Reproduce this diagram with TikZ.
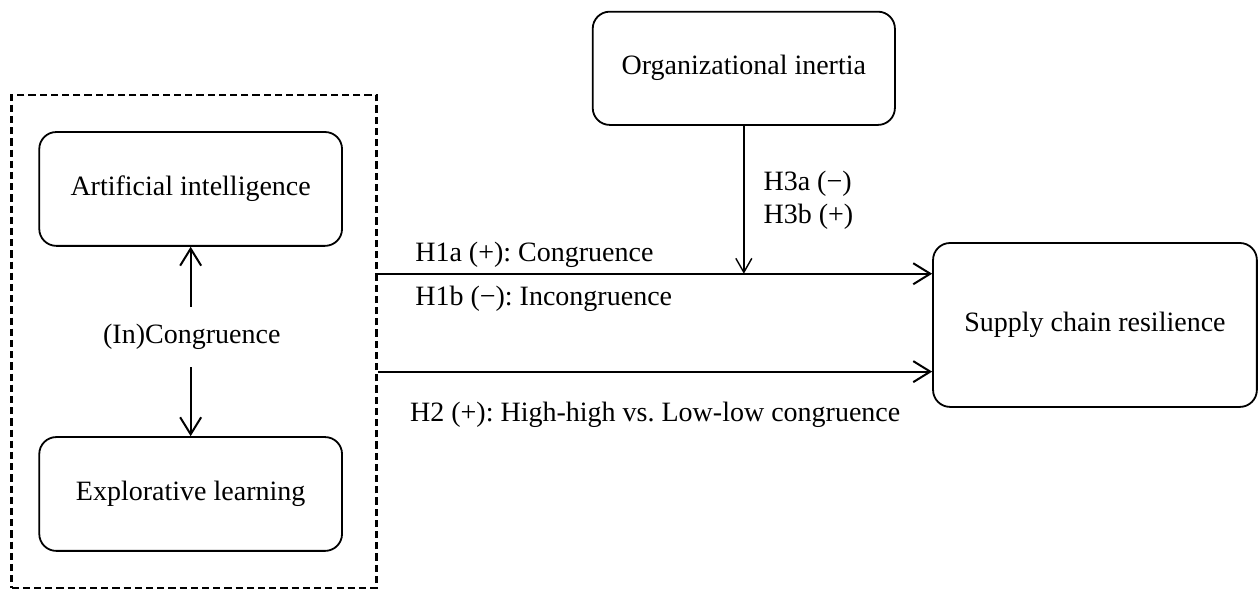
\documentclass[tikz,border=0pt]{standalone}
\usepackage{fontspec}
\setmainfont{Liberation Serif}
\usetikzlibrary{arrows.meta}
\usetikzlibrary{positioning}
\frenchspacing

\begin{document}
\begin{tikzpicture}[
    construct/.style={draw, rounded corners=8.5pt, line width=0.9pt, align=center},
    group/.style={draw, dash pattern=on 3.6pt off 2pt, line width=1.3pt, minimum width=6.41cm, minimum height=8.66cm},
    hyp/.style={anchor=base west, inner sep=0pt},
    arr/.style={line width=1pt, -{Straight Barb[length=8.5pt, width=10.5pt]}},
    modarr/.style={line width=0.7pt, -{Straight Barb[length=7pt, width=8pt]}},
    font=\fontsize{14}{16}\selectfont
]

\useasboundingbox (0,0) rectangle (22.14,-10.37);

% --- AI and learning pair ---
\node[group] (pair) at (3.41,-6.00) {};
\node[construct, minimum width=5.32cm, minimum height=2.00cm] (ai) at (3.35,-3.32) {Artificial intelligence};
\node[construct, minimum width=5.32cm, minimum height=2.00cm] (el) at (3.35,-8.68) {Explorative learning};
\node[inner ysep=8.5pt] (cong) at (3.37,-5.92) {(In)Congruence};

% --- Moderator and outcome ---
\node[construct, minimum width=5.31cm, minimum height=1.99cm] (oi) at (13.07,-1.20) {Organizational inertia};
\node[construct, minimum width=5.69cm, minimum height=2.88cm] (scr) at (19.24,-5.71) {Supply chain resilience};

% --- Arrow ends ---
\coordinate (h1in) at (scr.west |- 0,-4.81);
\coordinate (h2in) at (scr.west |- 0,-6.53);
\coordinate (modin) at (oi.south |- h1in);

% --- Congruence arrows ---
\draw[arr] (cong.north -| ai) -- (ai);
\draw[arr] (cong.south -| el) -- (el);

% --- Main effects ---
\foreach \k in {h1in, h2in}
    \draw[arr] (pair.east |- \k) -- (\k);

% --- Moderation ---
\draw[modarr] (oi) -- (modin);

% --- Hypothesis labels ---
\node[hyp] (h1a) at (7.29,-4.59) {H1a (+): Congruence};
\node[hyp] (h1b) at (7.29,-5.36) {H1b (−): Incongruence};
\node[hyp] (h2) at (7.20,-7.40) {H2 (+): High-high vs. Low-low congruence};
\node[hyp] (h3a) at (13.41,-3.35) {H3a (−)};
\node[hyp] (h3b) at (13.41,-3.92) {H3b (+)};

\end{tikzpicture}
\end{document}
